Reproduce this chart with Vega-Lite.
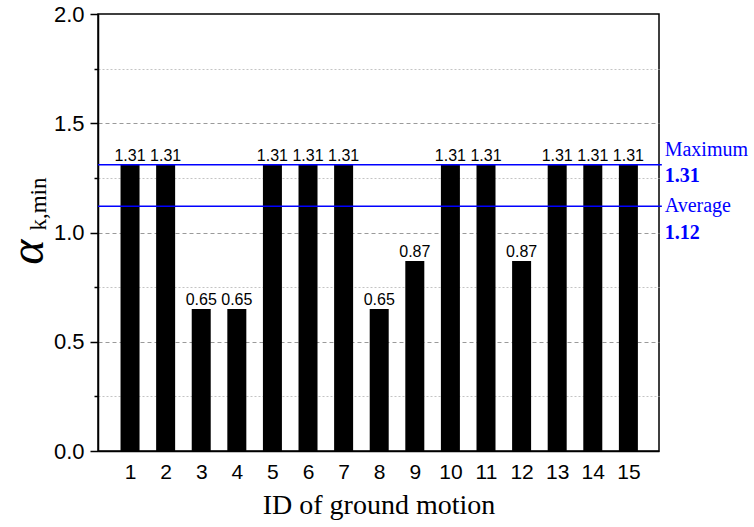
{
  "$schema": "https://vega.github.io/schema/vega-lite/v6.json",
  "width": 561,
  "height": 437,
  "autosize": "none",
  "padding": {"left": 98, "top": 14, "right": 95, "bottom": 76},
  "background": "white",
  "config": {
    "view": {"stroke": "black", "strokeWidth": 1.5},
    "font": "Liberation Sans",
    "scale": {"continuousPadding": 0}
  },
  "datasets": {
    "bars": [
      {"id": 1, "alpha": 1.31},
      {"id": 2, "alpha": 1.31},
      {"id": 3, "alpha": 0.65},
      {"id": 4, "alpha": 0.65},
      {"id": 5, "alpha": 1.31},
      {"id": 6, "alpha": 1.31},
      {"id": 7, "alpha": 1.31},
      {"id": 8, "alpha": 0.65},
      {"id": 9, "alpha": 0.87},
      {"id": 10, "alpha": 1.31},
      {"id": 11, "alpha": 1.31},
      {"id": 12, "alpha": 0.87},
      {"id": 13, "alpha": 1.31},
      {"id": 14, "alpha": 1.31},
      {"id": 15, "alpha": 1.31}
    ],
    "refs": [
      {"name": "Maximum", "value": 1.31},
      {"name": "Average", "value": 1.12}
    ]
  },
  "layer": [
    {
      "data": {"name": "bars"},
      "mark": {"type": "bar", "color": "black", "size": 19, "orient": "vertical"},
      "encoding": {
        "x": {
          "field": "id",
          "type": "quantitative",
          "scale": {"domain": [0.1, 15.86], "nice": false, "zero": false, "padding": 0},
          "axis": {
            "values": [1, 2, 3, 4, 5, 6, 7, 8, 9, 10, 11, 12, 13, 14, 15],
            "title": "ID of ground motion",
            "grid": false,
            "ticks": false,
            "tickSize": 0,
            "labelFontSize": 21,
            "labelFont": "Liberation Sans",
            "labelColor": "black",
            "labelPadding": 10,
            "labelFlush": false,
            "labelOverlap": false,
            "domainColor": "black",
            "domainWidth": 1.5,
            "titleFont": "Liberation Serif",
            "titleFontSize": 28,
            "titleFontWeight": "normal",
            "titleColor": "black",
            "titleY": 62,
            "titleBaseline": "alphabetic"
          }
        },
        "y": {
          "field": "alpha",
          "type": "quantitative",
          "scale": {"domain": [0, 2], "nice": false, "zero": false},
          "axis": {
            "values": [0, 0.25, 0.5, 0.75, 1, 1.25, 1.5, 1.75, 2],
            "title": null,
            "grid": true,
            "gridColor": {"condition": {"test": "abs(datum.value*2 - round(datum.value*2)) < 0.01", "value": "#9a9a9a"}, "value": "#c4c4c4"},
            "gridDash": {"condition": {"test": "abs(datum.value*2 - round(datum.value*2)) < 0.01", "value": [4, 3]}, "value": [2, 2]},
            "gridOpacity": {"condition": {"test": "datum.value < 0.01 || datum.value > 1.99", "value": 0}, "value": 1},
            "gridWidth": 1,
            "tickSize": {"condition": {"test": "abs(datum.value*2 - round(datum.value*2)) < 0.01", "value": 8}, "value": 4},
            "tickColor": "black",
            "tickWidth": 1.5,
            "labelExpr": "abs(datum.value*2 - round(datum.value*2)) < 0.01 ? format(datum.value, '.1f') : ''",
            "labelFontSize": 22,
            "labelFont": "Liberation Sans",
            "labelColor": "black",
            "labelPadding": 6,
            "labelFlush": false,
            "labelOverlap": false,
            "domainColor": "black",
            "domainWidth": 1.5
          }
        }
      }
    },
    {
      "data": {"name": "bars"},
      "mark": {"type": "text", "fontSize": 16, "font": "Liberation Sans", "color": "black", "baseline": "alphabetic", "align": "center", "dy": -4},
      "encoding": {
        "x": {"field": "id", "type": "quantitative", "scale": {"domain": [0.1, 15.86], "nice": false, "zero": false, "padding": 0}},
        "y": {"field": "alpha", "type": "quantitative", "scale": {"domain": [0, 2], "nice": false, "zero": false}},
        "text": {"field": "alpha", "type": "quantitative", "format": ".2f"}
      }
    },
    {
      "data": {"name": "refs"},
      "mark": {"type": "rule", "color": "#0000ff", "strokeWidth": 1.5},
      "encoding": {
        "x": {"datum": 0.1, "type": "quantitative", "scale": {"domain": [0.1, 15.86], "nice": false, "zero": false, "padding": 0}},
        "x2": {"datum": 15.94},
        "y": {"field": "value", "type": "quantitative", "scale": {"domain": [0, 2], "nice": false, "zero": false}}
      }
    },
    {
      "data": {"name": "refs"},
      "transform": [{"filter": "datum.name === 'Maximum'"}],
      "mark": {"type": "text", "font": "Liberation Serif", "fontSize": 20, "color": "#0000ff", "align": "left", "baseline": "alphabetic", "dy": -9},
      "encoding": {
        "x": {"datum": 16.02, "type": "quantitative"},
        "y": {"field": "value", "type": "quantitative"},
        "text": {"field": "name"}
      }
    },
    {
      "data": {"name": "refs"},
      "transform": [{"filter": "datum.name === 'Maximum'"}],
      "mark": {"type": "text", "font": "Liberation Serif", "fontSize": 20, "fontWeight": "bold", "color": "#0000ff", "align": "left", "baseline": "alphabetic", "dy": 17},
      "encoding": {
        "x": {"datum": 16.02, "type": "quantitative"},
        "y": {"field": "value", "type": "quantitative"},
        "text": {"field": "value", "type": "quantitative", "format": ".2f"}
      }
    },
    {
      "data": {"name": "refs"},
      "transform": [{"filter": "datum.name === 'Average'"}],
      "mark": {"type": "text", "font": "Liberation Serif", "fontSize": 20, "color": "#0000ff", "align": "left", "baseline": "alphabetic", "dy": 6},
      "encoding": {
        "x": {"datum": 16.02, "type": "quantitative"},
        "y": {"field": "value", "type": "quantitative"},
        "text": {"field": "name"}
      }
    },
    {
      "data": {"name": "refs"},
      "transform": [{"filter": "datum.name === 'Average'"}],
      "mark": {"type": "text", "font": "Liberation Serif", "fontSize": 20, "fontWeight": "bold", "color": "#0000ff", "align": "left", "baseline": "alphabetic", "dy": 33},
      "encoding": {
        "x": {"datum": 16.02, "type": "quantitative"},
        "y": {"field": "value", "type": "quantitative"},
        "text": {"field": "value", "type": "quantitative", "format": ".2f"}
      }
    },
    {
      "data": {"values": [{"t": "α"}]},
      "mark": {"type": "text", "font": "Liberation Serif", "fontStyle": "italic", "fontSize": 48, "color": "black", "angle": 270, "align": "center", "baseline": "alphabetic"},
      "encoding": {
        "x": {"datum": -1.445, "type": "quantitative"},
        "y": {"datum": 0.91, "type": "quantitative"},
        "text": {"field": "t"}
      }
    },
    {
      "data": {"values": [{"t": "k,min"}]},
      "mark": {"type": "text", "font": "Liberation Serif", "fontSize": 23, "color": "black", "angle": 270, "align": "center", "baseline": "alphabetic"},
      "encoding": {
        "x": {"datum": -1.36, "type": "quantitative"},
        "y": {"datum": 1.13, "type": "quantitative"},
        "text": {"field": "t"}
      }
    }
  ]
}
